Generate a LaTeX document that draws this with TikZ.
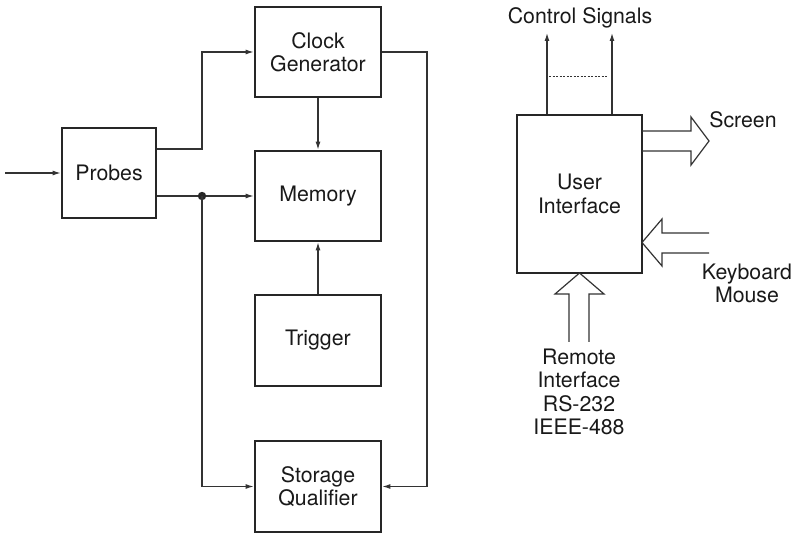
\documentclass[tikz,border=0pt]{standalone}
\usepackage{fontspec}
\setmainfont{TeX Gyre Heros}
\usetikzlibrary{arrows.meta}
\begin{document}
\begin{tikzpicture}[x=1pt,y=-1pt,
  every node/.style={font=\fontsize{21.3}{23.5}\selectfont, text=black!90},
  blockbox/.style={draw=black!85, line width=2.7pt, rectangle, align=center, inner sep=0pt},
  conn/.style={draw=black!80, line width=1.2pt},
  arr/.style={conn, -{Latex[length=8pt,width=5pt]}},
  fat/.style={draw=black!80, line width=1.2pt, line join=miter},
  lbl/.style={align=center, inner sep=0pt}]
\useasboundingbox (0,0) rectangle (795,534);

% left blocks
\node[blockbox, minimum width=126pt, minimum height=90pt] (clock) at (318,52) {Clock\\Generator};
\node[blockbox, minimum width=94pt, minimum height=90pt] (probes) at (109,173) {Probes};
\node[blockbox, minimum width=126pt, minimum height=90pt] (memory) at (318,196) {Memory};
\node[blockbox, minimum width=126pt, minimum height=91pt] (trigger) at (318,340.5) {Trigger};
\node[blockbox, minimum width=126pt, minimum height=91pt] (storage) at (318,486.5) {Storage\\Qualifier};

\coordinate (in) at (5,173);
\coordinate (p1) at (202,149);
\coordinate (j) at (202,196);
\coordinate (r) at (427,52);

\draw[arr] (in) -- (probes.west);
\draw[arr] ([yshift=24pt]probes.east) -| (p1) |- (clock.west);
\draw[arr] ([yshift=-23pt]probes.east) -- (memory.west);
\fill[black!85] (j) circle (4.2pt);
\draw[arr] (j) |- (storage.west);
\draw[arr] (clock.east) -- (r) |- (storage.east);
\draw[arr] (clock.south) -- (memory.north);
\draw[arr] (trigger.north) -- (memory.south);

% user interface
\node[blockbox, minimum width=125pt, minimum height=158pt] (ui) at (579.5,194) {User\\Interface};

\coordinate (c1) at (547,33);
\coordinate (c2) at (612,33);
\draw[arr] ([xshift=-32.5pt]ui.north) -- (c1);
\draw[arr] ([xshift=32.5pt]ui.north) -- (c2);
\node[lbl] (ctl) at (580,18) {Control Signals};
\coordinate (d1) at (549,76);
\coordinate (d2) at (608,76);
\draw[draw=black!80, line width=0.9pt, dash pattern=on 2.2pt off 1.3pt] (d1) -- (d2);

% Screen arrow
\draw[fat] (642,131) -- (691,131) -- (691,117) -- (709,141) -- (691,165) -- (691,151) -- (642,151);
\node[lbl] (screen) at (743,120) {Screen};

% Keyboard arrow
\draw[fat] (709,233) -- (662,233) -- (662,219) -- (642,242.5) -- (662,266) -- (662,253) -- (709,253);
\node[lbl] (kbd) at (747,283.5) {Keyboard\\Mouse};

% Remote arrow
\draw[fat] (569,342) -- (569,294) -- (555,294) -- (579.5,273) -- (604,294) -- (589,294) -- (589,342);
\node[lbl] (remote) at (579,392) {Remote\\Interface\\RS-232\\IEEE-488};
\end{tikzpicture}
\end{document}
